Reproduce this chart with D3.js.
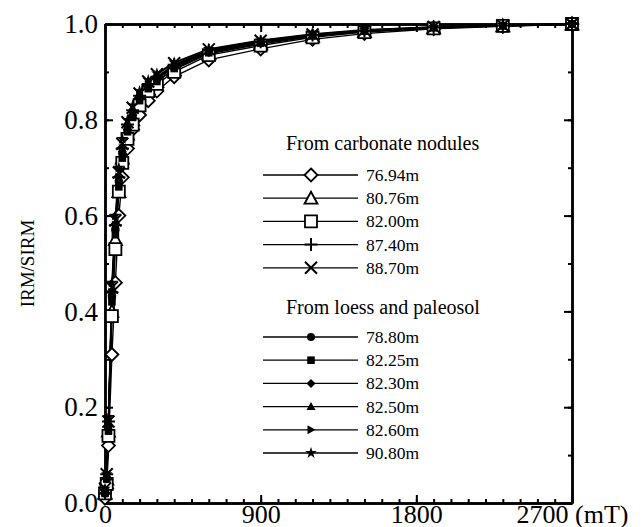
<!DOCTYPE html>
<html>
<head>
<meta charset="utf-8">
<script src="https://cdn.jsdelivr.net/npm/d3@7"></script>
<style>
  body { margin: 0; background: #fff; }
  svg { display: block; }
  text { font-family: "Liberation Serif", "Times New Roman", serif; fill: #000; }
</style>
</head>
<body>
<svg id="chart" width="644" height="527"></svg>
<script>
// Applied field steps (mT)
const fieldMT = [0, 10, 20, 40, 60, 80, 100, 130, 160, 200, 250, 300, 400, 600, 900, 1200, 1500, 1900, 2300, 2700];

// Normalised IRM (IRM/SIRM) – carbonate nodules
const irm7694 = [0.01, 0.03, 0.12, 0.31, 0.46, 0.60, 0.68, 0.74, 0.78, 0.81, 0.84, 0.86, 0.89, 0.925, 0.948, 0.968, 0.980, 0.990, 0.995, 1.00];
const irm8076 = [0.02, 0.05, 0.15, 0.40, 0.55, 0.65, 0.72, 0.77, 0.80, 0.84, 0.865, 0.88, 0.905, 0.938, 0.958, 0.974, 0.984, 0.992, 0.996, 1.00];
const irm8200 = [0.02, 0.04, 0.14, 0.39, 0.53, 0.65, 0.71, 0.76, 0.79, 0.83, 0.86, 0.875, 0.90, 0.935, 0.955, 0.972, 0.983, 0.991, 0.996, 1.00];
const irm8740 = [0.02, 0.06, 0.17, 0.44, 0.58, 0.68, 0.74, 0.79, 0.82, 0.85, 0.875, 0.89, 0.915, 0.945, 0.963, 0.977, 0.986, 0.993, 0.997, 1.00];
const irm8870 = [0.03, 0.06, 0.17, 0.45, 0.59, 0.69, 0.75, 0.795, 0.825, 0.855, 0.88, 0.895, 0.918, 0.947, 0.965, 0.978, 0.987, 0.994, 0.997, 1.00];

// Normalised IRM – loess and paleosol
const irm7880 = [0.02, 0.05, 0.16, 0.43, 0.57, 0.67, 0.73, 0.78, 0.81, 0.845, 0.87, 0.885, 0.91, 0.942, 0.962, 0.976, 0.985, 0.993, 0.997, 1.00];
const irm8225 = [0.02, 0.05, 0.15, 0.42, 0.56, 0.66, 0.72, 0.775, 0.805, 0.84, 0.865, 0.88, 0.907, 0.94, 0.96, 0.975, 0.985, 0.992, 0.996, 1.00];
const irm8230 = [0.02, 0.05, 0.16, 0.43, 0.57, 0.67, 0.73, 0.78, 0.81, 0.845, 0.87, 0.886, 0.91, 0.943, 0.962, 0.976, 0.986, 0.993, 0.997, 1.00];
const irm8250 = [0.03, 0.06, 0.17, 0.44, 0.58, 0.68, 0.74, 0.785, 0.815, 0.85, 0.873, 0.888, 0.912, 0.944, 0.963, 0.977, 0.986, 0.993, 0.997, 1.00];
const irm8260 = [0.03, 0.06, 0.16, 0.44, 0.58, 0.68, 0.74, 0.785, 0.815, 0.85, 0.874, 0.889, 0.913, 0.945, 0.964, 0.977, 0.986, 0.993, 0.997, 1.00];
const irm9080 = [0.03, 0.06, 0.18, 0.46, 0.60, 0.70, 0.76, 0.80, 0.83, 0.86, 0.883, 0.897, 0.92, 0.948, 0.966, 0.979, 0.988, 0.994, 0.998, 1.00];

const noduleDepths = ["76.94m", "80.76m", "82.00m", "87.40m", "88.70m"];
const loessDepths  = ["78.80m", "82.25m", "82.30m", "82.50m", "82.60m", "90.80m"];
const groupTitles  = ["From carbonate nodules", "From loess and paleosol"];

const xMajorTicks = [0, 900, 1800, 2700];
const yMajorTicks = [0, 0.2, 0.4, 0.6, 0.8, 1.0];

const noduleSeries = [
  { label: noduleDepths[0], values: irm7694, marker: "diamondOpen" },
  { label: noduleDepths[1], values: irm8076, marker: "triangleOpen" },
  { label: noduleDepths[2], values: irm8200, marker: "squareOpen" },
  { label: noduleDepths[3], values: irm8740, marker: "plus" },
  { label: noduleDepths[4], values: irm8870, marker: "cross" }
];
const loessSeries = [
  { label: loessDepths[0], values: irm7880, marker: "circle" },
  { label: loessDepths[1], values: irm8225, marker: "square" },
  { label: loessDepths[2], values: irm8230, marker: "diamond" },
  { label: loessDepths[3], values: irm8250, marker: "triangle" },
  { label: loessDepths[4], values: irm8260, marker: "triangleRight" },
  { label: loessDepths[5], values: irm9080, marker: "star" }
];

const svg = d3.select("#chart");
const x = d3.scaleLinear().domain([0, 2700]).range([105, 572]);
const y = d3.scaleLinear().domain([0, 1]).range([503, 24]);

// Marker shapes
const starPath = d3.symbol().type(d3.symbolStar).size(42)();
function markerPath(type) {
  switch (type) {
    case "diamondOpen":   return "M0,-6.5L6.5,0L0,6.5L-6.5,0Z";
    case "triangleOpen":  return "M0,-6.5L6.5,5.5L-6.5,5.5Z";
    case "squareOpen":    return "M-6,-6H6V6H-6Z";
    case "plus":          return "M-6.5,0H6.5M0,-6.5V6.5";
    case "cross":         return "M-6,-6L6,6M-6,6L6,-6";
    case "circle":        return "M4,0A4,4 0 1,1 -4,0A4,4 0 1,1 4,0Z";
    case "square":        return "M-3.8,-3.8H3.8V3.8H-3.8Z";
    case "diamond":       return "M0,-4.5L4.5,0L0,4.5L-4.5,0Z";
    case "triangle":      return "M0,-4.5L4.5,3.5L-4.5,3.5Z";
    case "triangleRight": return "M-3.5,-4.5L4.5,0L-3.5,4.5Z";
    case "star":          return starPath;
  }
}
const openTypes = ["diamondOpen", "triangleOpen", "squareOpen"];
const strokeOnly = ["plus", "cross"];
function styleMarker(sel, type) {
  if (openTypes.includes(type)) sel.attr("fill", "#fff").attr("stroke", "#000").attr("stroke-width", 1.8);
  else if (strokeOnly.includes(type)) sel.attr("fill", "none").attr("stroke", "#000").attr("stroke-width", 2);
  else sel.attr("fill", "#000").attr("stroke", "none");
}

// Axes: minor ticks every 100 mT / 0.1, major ticks labelled, all pointing inward
const fmtX = d => d === 2700 ? "2700 (mT)" : String(d);
const axisG = svg.append("g").attr("class", "axes");

axisG.append("g").attr("transform", `translate(0,${y(0)})`)
  .call(d3.axisBottom(x).tickValues(d3.range(0, 2701, 100)).tickSize(-4).tickSizeOuter(0).tickFormat(""));
const xLabelAxis = axisG.append("g").attr("class", "xlabels").attr("transform", `translate(0,${y(0)})`)
  .call(d3.axisBottom(x).tickValues(xMajorTicks).tickSize(-8).tickSizeOuter(0).tickPadding(0).tickFormat(fmtX));
axisG.append("g").attr("transform", `translate(0,${y(1)})`)
  .call(d3.axisTop(x).tickValues(d3.range(0, 2701, 100)).tickSize(-4).tickSizeOuter(0).tickFormat(""));
axisG.append("g").attr("transform", `translate(0,${y(1)})`)
  .call(d3.axisTop(x).tickValues(xMajorTicks).tickSize(-8).tickSizeOuter(0).tickFormat(""));
axisG.append("g").attr("transform", `translate(${x(0)},0)`)
  .call(d3.axisLeft(y).tickValues(d3.range(0, 1.01, 0.1)).tickSize(-4).tickSizeOuter(0).tickFormat(""));
axisG.append("g").attr("class", "ylabels").attr("transform", `translate(${x(0)},0)`)
  .call(d3.axisLeft(y).tickValues(yMajorTicks).tickSize(-8).tickSizeOuter(0).tickPadding(7).tickFormat(d3.format(".1f")));
axisG.append("g").attr("transform", `translate(${x(2700)},0)`)
  .call(d3.axisRight(y).tickValues(d3.range(0, 1.01, 0.1)).tickSize(-4).tickSizeOuter(0).tickFormat(""));
axisG.append("g").attr("transform", `translate(${x(2700)},0)`)
  .call(d3.axisRight(y).tickValues(yMajorTicks).tickSize(-8).tickSizeOuter(0).tickFormat(""));

axisG.selectAll(".domain").attr("stroke", "#000").attr("stroke-width", 2.5);
axisG.selectAll(".tick line").attr("stroke", "#000").attr("stroke-width", 2);
axisG.selectAll(".ylabels .tick text").style("font-size", "27px").attr("fill", "#000");
// x labels: baseline placed explicitly so the glyphs sit just under the frame
xLabelAxis.selectAll(".tick text").style("font-size", "26px").attr("fill", "#000")
  .attr("y", 0).attr("dy", "19.5px");

// Y axis title
svg.append("text")
  .attr("transform", `translate(34,${(y(0) + y(1)) / 2}) rotate(-90)`)
  .attr("text-anchor", "middle")
  .style("font-size", "19px")
  .text("IRM/SIRM");

// Curves
const line = d3.line().x((d, i) => x(fieldMT[i])).y(d => y(d));
const allSeries = noduleSeries.concat(loessSeries);
const plotG = svg.append("g");
allSeries.forEach(s => {
  plotG.append("path").attr("d", line(s.values))
    .attr("fill", "none").attr("stroke", "#000").attr("stroke-width", 1.4);
});
allSeries.forEach(s => {
  plotG.selectAll(null).data(s.values).enter().append("path")
    .attr("transform", (d, i) => `translate(${x(fieldMT[i])},${y(d)})`)
    .attr("d", markerPath(s.marker))
    .call(styleMarker, s.marker);
});

// Legend
const legend = svg.append("g");
function legendBlock(title, titleY, series, rowY0, rowStep) {
  legend.append("text").attr("x", 286).attr("y", titleY).style("font-size", "20px").text(title);
  series.forEach((s, i) => {
    const cy = rowY0 + i * rowStep;
    legend.append("line").attr("x1", 263).attr("x2", 358).attr("y1", cy).attr("y2", cy)
      .attr("stroke", "#000").attr("stroke-width", 1.3);
    legend.append("path").attr("transform", `translate(311,${cy})`)
      .attr("d", markerPath(s.marker)).call(styleMarker, s.marker);
    legend.append("text").attr("x", 366).attr("y", cy + 6).style("font-size", "17.5px").text(s.label);
  });
}
legendBlock(groupTitles[0], 150, noduleSeries, 175, 23.2);
legendBlock(groupTitles[1], 314, loessSeries, 337, 23.2);
</script>
</body>
</html>
